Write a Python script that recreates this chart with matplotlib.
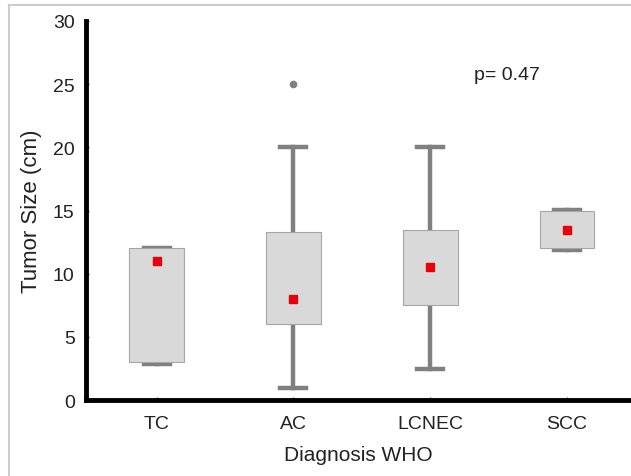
import matplotlib.pyplot as plt
from matplotlib.lines import Line2D

plt.rcParams['font.family'] = ['Liberation Sans', 'DejaVu Sans']

groups = ["TC", "AC", "LCNEC", "SCC"]
q1 = [3.0, 6.0, 7.5, 12.0]
q3 = [12.0, 13.3, 13.5, 15.0]
whislo = [2.85, 1.0, 2.5, 11.9]
whishi = [12.05, 20.0, 20.0, 15.05]
centers = [11.0, 8.0, 10.5, 13.5]
outliers = [[], [25.0], [], []]
p_text = "p= 0.47"

stats = []
for i, g in enumerate(groups):
    stats.append({"label": g, "q1": q1[i], "q3": q3[i], "med": centers[i],
                  "mean": centers[i], "whislo": whislo[i], "whishi": whishi[i],
                  "fliers": outliers[i]})

fig = plt.figure(figsize=(6.31, 4.77), dpi=100)
ax = fig.add_axes([0.136, 0.159, 0.864, 0.795])

gray = "#808080"
ax.bxp(stats, positions=range(len(groups)), widths=0.4, capwidths=0.19,
       patch_artist=True, showmeans=True,
       boxprops=dict(facecolor="#d9d9d9", edgecolor="#a6a6a6", linewidth=0.8, zorder=3),
       whiskerprops=dict(color=gray, linewidth=3.2, zorder=2),
       capprops=dict(color=gray, linewidth=3.2, zorder=2),
       medianprops=dict(linewidth=0),
       meanprops=dict(marker="s", markerfacecolor="#e8000b", markeredgecolor="#e8000b",
                      markersize=5.5, zorder=4),
       flierprops=dict(marker="o", markerfacecolor=gray, markeredgecolor=gray,
                       markersize=4.5))

ax.set_xlim(-0.518, 3.467)
ax.set_ylim(0, 30)
ax.set_yticks([0, 5, 10, 15, 20, 25, 30])
ax.set_xticks(range(len(groups)))
ax.set_xticklabels(groups)

for s in ["top", "right"]:
    ax.spines[s].set_visible(False)
for s in ["left", "bottom"]:
    ax.spines[s].set_linewidth(3.5)
    ax.spines[s].set_color("black")
    ax.spines[s].set_capstyle("projecting")

ax.tick_params(axis="both", length=2.5, width=1, color="#555555", direction="in",
               labelsize=14, labelcolor="#222222")
ax.tick_params(axis="x", pad=11)
ax.tick_params(axis="y", pad=8)

ax.set_xlabel("Diagnosis WHO", fontsize=15, color="#222222", labelpad=9)
ax.set_ylabel("Tumor Size (cm)", fontsize=16, color="#222222", labelpad=8)

ax.text(2.32, 25.8, p_text, fontsize=14, color="#222222", va="center", ha="left")

# light frame around the figure (left and top edges)
fig.add_artist(Line2D([0.0135, 0.0135], [0, 0.987], transform=fig.transFigure,
                      color="#cccccc", linewidth=1.5))
fig.add_artist(Line2D([0.0135, 1.0], [0.987, 0.987], transform=fig.transFigure,
                      color="#cccccc", linewidth=1.5))

fig.savefig("out.png", dpi=100)
